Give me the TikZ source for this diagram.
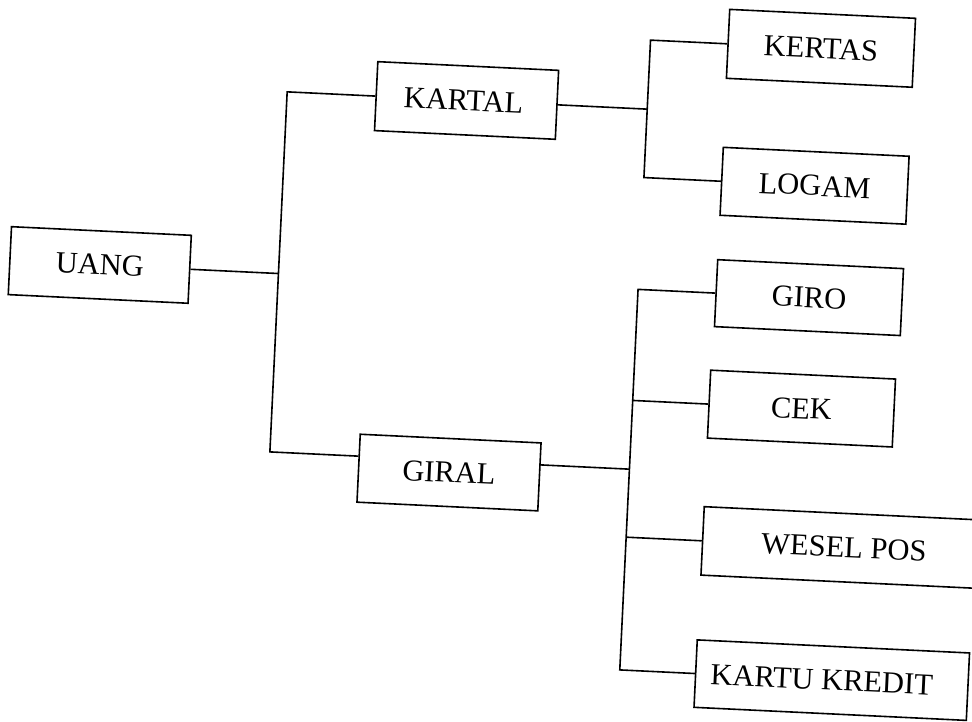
\documentclass[tikz,border=0pt]{standalone}
\usepackage{fontspec}
\setmainfont{Liberation Serif}
\begin{document}
\begin{tikzpicture}[x=1pt,y=-1pt,
  box/.style={draw, line width=1.6pt, inner sep=0pt, minimum height=68pt,
    font=\fontsize{30.5}{36}\selectfont},
  link/.style={line width=1.6pt}]
\useasboundingbox (0,0) rectangle (972,722);
\begin{scope}[rotate around={-2.75:(486,361)}, transform shape]
  % nodes
  \node[box, minimum width=180pt] (uang) at (95.6,283.6) {UANG};
  \node[box, minimum width=181pt, minimum height=69pt] (kartal) at (454.1,101.7) {KARTAL\hspace*{6pt}};
  \node[box, minimum width=181pt] (giral) at (454.4,474.2) {GIRAL};
  \node[box, minimum width=186pt, minimum height=69pt] (kertas) at (805.6,32.6) {KERTAS};
  \node[box, minimum width=186pt] (logam) at (805.8,170.2) {LOGAM};
  \node[box, minimum width=186pt, minimum height=67pt] (giro) at (805.6,282.2) {GIRO};
  \node[box, minimum width=185pt] (cek) at (803.4,393.4) {CEK};
  \node[box, minimum width=283pt, minimum height=68.5pt] (wesel) at (852.5,530.3) {WESEL POS};
  \node[box, minimum width=272.6pt, minimum height=67.5pt] (kartu) at (846.7,663.2) {KARTU KREDIT\hspace*{20pt}};
  % junction points
  \coordinate (mm) at (274.5,283.6);
  \coordinate (mt) at (274.5,101.7);
  \coordinate (mb) at (274.5,462.2);
  \coordinate (km) at (635,101.7);
  \coordinate (kt) at (635,32.6);
  \coordinate (kb) at (635,170.2);
  \coordinate (gm) at (634.5,462.2);
  \coordinate (gt) at (634.5,282.2);
  \coordinate (gc) at (634.5,393.4);
  \coordinate (gw) at (634.5,530.3);
  \coordinate (gb) at (634.5,663.2);
  % connectors
  \draw[link] (uang.east) -- (mm);
  \draw[link] (kartal.west) -- (mt) -- (mb) -- ([yshift=12pt]giral.west);
  \draw[link] (kartal.east) -- (km);
  \draw[link] (kertas.west) -- (kt) -- (kb) -- (logam.west);
  \draw[link] ([yshift=12pt]giral.east) -- (gm);
  \draw[link] (giro.west) -- (gt) -- (gb) -- (kartu.west);
  \draw[link] (gc) -- (cek.west);
  \draw[link] (gw) -- (wesel.west);
\end{scope}
\end{tikzpicture}
\end{document}
